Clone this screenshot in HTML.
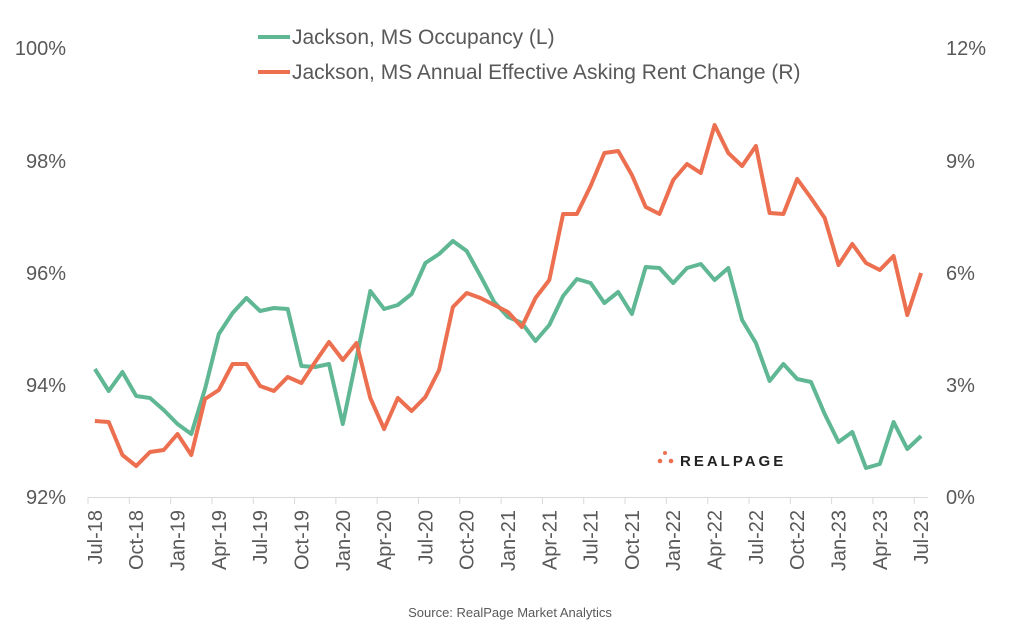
<!DOCTYPE html>
<html><head><meta charset="utf-8"><style>
body{margin:0;background:#fff;}
svg text{font-family:"Liberation Sans",sans-serif;fill:#595959;}
</style></head><body>
<svg width="1020" height="632" viewBox="0 0 1020 632" xmlns="http://www.w3.org/2000/svg">
<g font-size="20" text-anchor="end">
<text x="66" y="55">100%</text><text x="66" y="168">98%</text><text x="66" y="280">96%</text><text x="66" y="392">94%</text><text x="66" y="504">92%</text>
</g>
<g font-size="20" text-anchor="start">
<text x="946" y="55">12%</text><text x="946" y="168">9%</text><text x="946" y="280">6%</text><text x="946" y="392">3%</text><text x="946" y="504">0%</text>
</g>
<line x1="88" y1="497.5" x2="928" y2="497.5" stroke="#d9d9d9" stroke-width="1"/>
<g id="ticks" stroke="#d9d9d9"></g>
<g id="labels" font-size="20"></g>
<polyline id="g" fill="none" stroke="#5fb794" stroke-width="4" stroke-linejoin="round"/>
<polyline id="o" fill="none" stroke="#ec6f50" stroke-width="4" stroke-linejoin="round"/>
<line x1="258" y1="37" x2="290" y2="37" stroke="#5fb794" stroke-width="4"/>
<text x="292" y="44" font-size="21">Jackson, MS Occupancy (L)</text>
<line x1="258" y1="72" x2="290" y2="72" stroke="#ec6f50" stroke-width="4"/>
<text x="292" y="79" font-size="21">Jackson, MS Annual Effective Asking Rent Change (R)</text>
<circle cx="665" cy="453" r="2" fill="#ec6f50"/><circle cx="660" cy="461" r="2.3" fill="#ec6f50"/><circle cx="671" cy="461" r="2.3" fill="#ec6f50"/>
<text x="680" y="466" font-size="15" font-weight="bold" letter-spacing="3" style="fill:#222">REALPAGE</text>
<text x="510" y="617" font-size="13" text-anchor="middle">Source: RealPage Market Analytics</text>
</svg>
<script>
var G=[369,391,372,396,398,410,424,434,389,334,313,298,311,308,309,366,367,364,424,358,291,309,305,294,263,254,241,251,276,302,317,323,341,325,296,279,283,303,292,314,267,268,283,268,264,280,268,320,343,381,364,379,382,414,442,432,468,464,422,449,436];
var O=[421,422,455,466,452,450,434,455,399,390,364,364,386,391,377,383,362,342,360,343,398,429,398,411,397,370,307,293,298,305,312,327,298,280,214,214,186,153,151,175,207,214,180,164,173,125,153,166,146,213,214,179,198,218,265,244,263,270,256,315,273];
var w=840/61;function X(i){return 88+w*(i+0.5);}
document.getElementById('g').setAttribute('points',G.map(function(y,i){return X(i).toFixed(1)+','+y}).join(' '));
document.getElementById('o').setAttribute('points',O.map(function(y,i){return X(i).toFixed(1)+','+y}).join(' '));
var ns='http://www.w3.org/2000/svg',t=document.getElementById('ticks'),l=document.getElementById('labels');
var m=['Jul','Oct','Jan','Apr'];
for(var k=0;k<=20;k++){var i=k*3;var x=88+w*i;var ln=document.createElementNS(ns,'line');ln.setAttribute('x1',x);ln.setAttribute('x2',x);ln.setAttribute('y1',497);ln.setAttribute('y2',504);t.appendChild(ln);
var yr=18+Math.floor((i+6)/12);var tx=document.createElementNS(ns,'text');var cx=X(i)+7;tx.setAttribute('transform','translate('+cx+',510) rotate(-90)');tx.setAttribute('text-anchor','end');tx.textContent=m[k%4]+'-'+yr;l.appendChild(tx);}
</script>
</body></html>
